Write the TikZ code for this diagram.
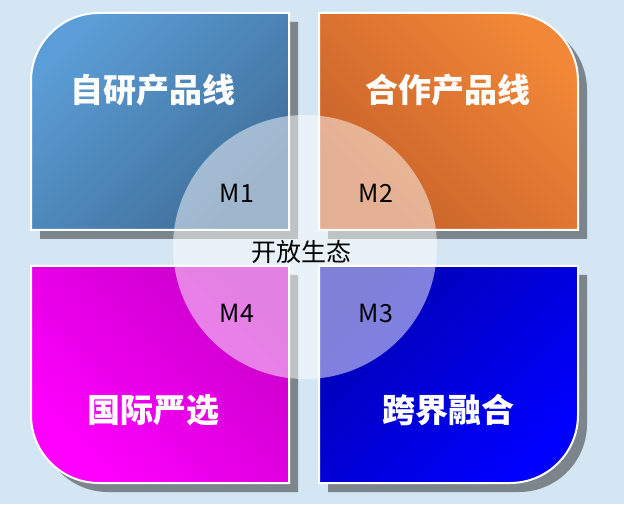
\documentclass[tikz,border=0pt]{standalone}
\usepackage{fontspec}
\setmainfont{Noto Sans CJK SC}
\definecolor{bg}{HTML}{D4E6F4}
\definecolor{shadowgray}{HTML}{7C858B}
\definecolor{blueA}{HTML}{5B9DD6}
\definecolor{blueB}{HTML}{3F6E99}
\definecolor{orangeA}{HTML}{C7612A}
\definecolor{orangeB}{HTML}{F28737}
\definecolor{magA}{HTML}{C800C8}
\definecolor{magB}{HTML}{FF00FF}
\definecolor{navyA}{HTML}{0000B4}
\definecolor{navyB}{HTML}{0000FF}
\begin{document}
\begin{tikzpicture}[x=1pt,y=1pt]
\tikzset{title/.style={text=white,font=\bfseries\fontsize{33}{36}\selectfont},
  mark label/.style={text=black,font=\fontsize{25}{28}\selectfont}}
\fill[bg] (0,0) rectangle (624,504);
\useasboundingbox (0,0) rectangle (624,504);
% shadows
\fill[shadowgray] (40,265)--(40,414) arc[start angle=180,end angle=90,radius=68]--(298,482)--(298,265)--cycle;
\fill[shadowgray] (328,265)--(328,482)--(519,482) arc[start angle=90,end angle=0,radius=68]--(587,265)--cycle;
\fill[shadowgray] (40,80)--(40,229)--(298,229)--(298,12)--(108,12) arc[start angle=270,end angle=180,radius=68]--cycle;
\fill[shadowgray] (328,12)--(328,229)--(587,229)--(587,80) arc[start angle=0,end angle=-90,radius=68]--cycle;
% boxes
\shade[top color=blueA,bottom color=blueB,shading angle=45,draw=white,line width=2]
  (31,274)--(31,423) arc[start angle=180,end angle=90,radius=68]--(289,491)--(289,274)--cycle;
\shade[top color=orangeB,bottom color=orangeA,shading angle=-45,draw=white,line width=2]
  (319,274)--(319,491)--(510,491) arc[start angle=90,end angle=0,radius=68]--(578,274)--cycle;
\shade[top color=magA,bottom color=magB,shading angle=-45,draw=white,line width=2]
  (31,89)--(31,238)--(289,238)--(289,21)--(99,21) arc[start angle=270,end angle=180,radius=68]--cycle;
\shade[top color=navyA,bottom color=navyB,shading angle=45,draw=white,line width=2]
  (319,21)--(319,238)--(578,238)--(578,89) arc[start angle=0,end angle=-90,radius=68]--cycle;
% center circle
\fill[white,opacity=0.5] (305,257) circle[radius=132];
\node[title] (own) at (153,414) {自研产品线};
\node[title] (partner) at (448,414) {合作产品线};
\node[title] (intl) at (153,94) {国际严选};
\node[title] (cross) at (448,94) {跨界融合};
\node[mark label] (m1) at (237,311) {M1};
\node[mark label] (m2) at (376,311) {M2};
\node[mark label] (m4) at (237,191) {M4};
\node[mark label] (m3) at (376,191) {M3};
\node[mark label] (eco) at (301,252) {开放生态};
\end{tikzpicture}
\end{document}
